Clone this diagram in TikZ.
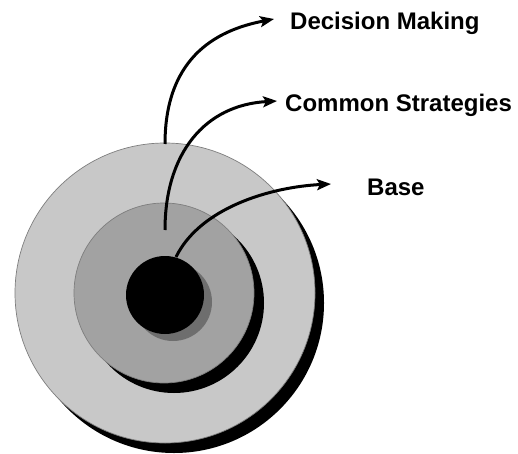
\documentclass[tikz,border=0pt]{standalone}
\usepackage{fontspec}
\setmainfont{Liberation Sans}
\usetikzlibrary{arrows.meta}
\definecolor{ringlight}{HTML}{C8C8C8}
\definecolor{ringmid}{HTML}{A2A2A2}
\definecolor{ringedge}{HTML}{7E7E7E}
\definecolor{coreshadow}{HTML}{6E6E6E}
\begin{document}
\begin{tikzpicture}[x=1pt,y=1pt,
  shadowdisc/.style={fill=black},
  ringdisc/.style={draw=ringedge,line width=0.7pt},
  flow/.style={line width=3pt,-{Stealth[length=14pt,width=11pt,inset=3pt]}},
  lbl/.style={font=\bfseries\fontsize{24}{28}\selectfont,anchor=base west,inner sep=0pt}]
\useasboundingbox (0,0) rectangle (518,453);
% outer ring
\fill[shadowdisc] (174,150) circle[radius=150];
\filldraw[ringdisc,fill=ringlight] (165,160) circle[radius=150];
% middle ring
\fill[shadowdisc] (174,150) circle[radius=90];
\filldraw[ringdisc,fill=ringmid] (164,160) circle[radius=90];
% core
\fill[coreshadow] (173,151) circle[radius=39];
\fill[black] (165,158) circle[radius=39];
% labels
\node[lbl] (dm) at (290,423) {Decision Making};
\node[lbl] (cs) at (285,341) {Common Strategies};
\node[lbl] (bs) at (367,258) {Base};
% arrow endpoints
\coordinate (dmS) at (165,309);
\coordinate (dmT) at (274,434);
\coordinate (csS) at (165,223);
\coordinate (csT) at (277,352);
\coordinate (bsS) at (176,196);
\coordinate (bsT) at (331,269);
\draw[flow] (dmS) .. controls (165,400) and (222,424) .. (dmT);
\draw[flow] (csS) .. controls (165,300) and (205,348) .. (csT);
\draw[flow] (bsS) .. controls (200,245) and (270,266) .. (bsT);
\end{tikzpicture}
\end{document}
